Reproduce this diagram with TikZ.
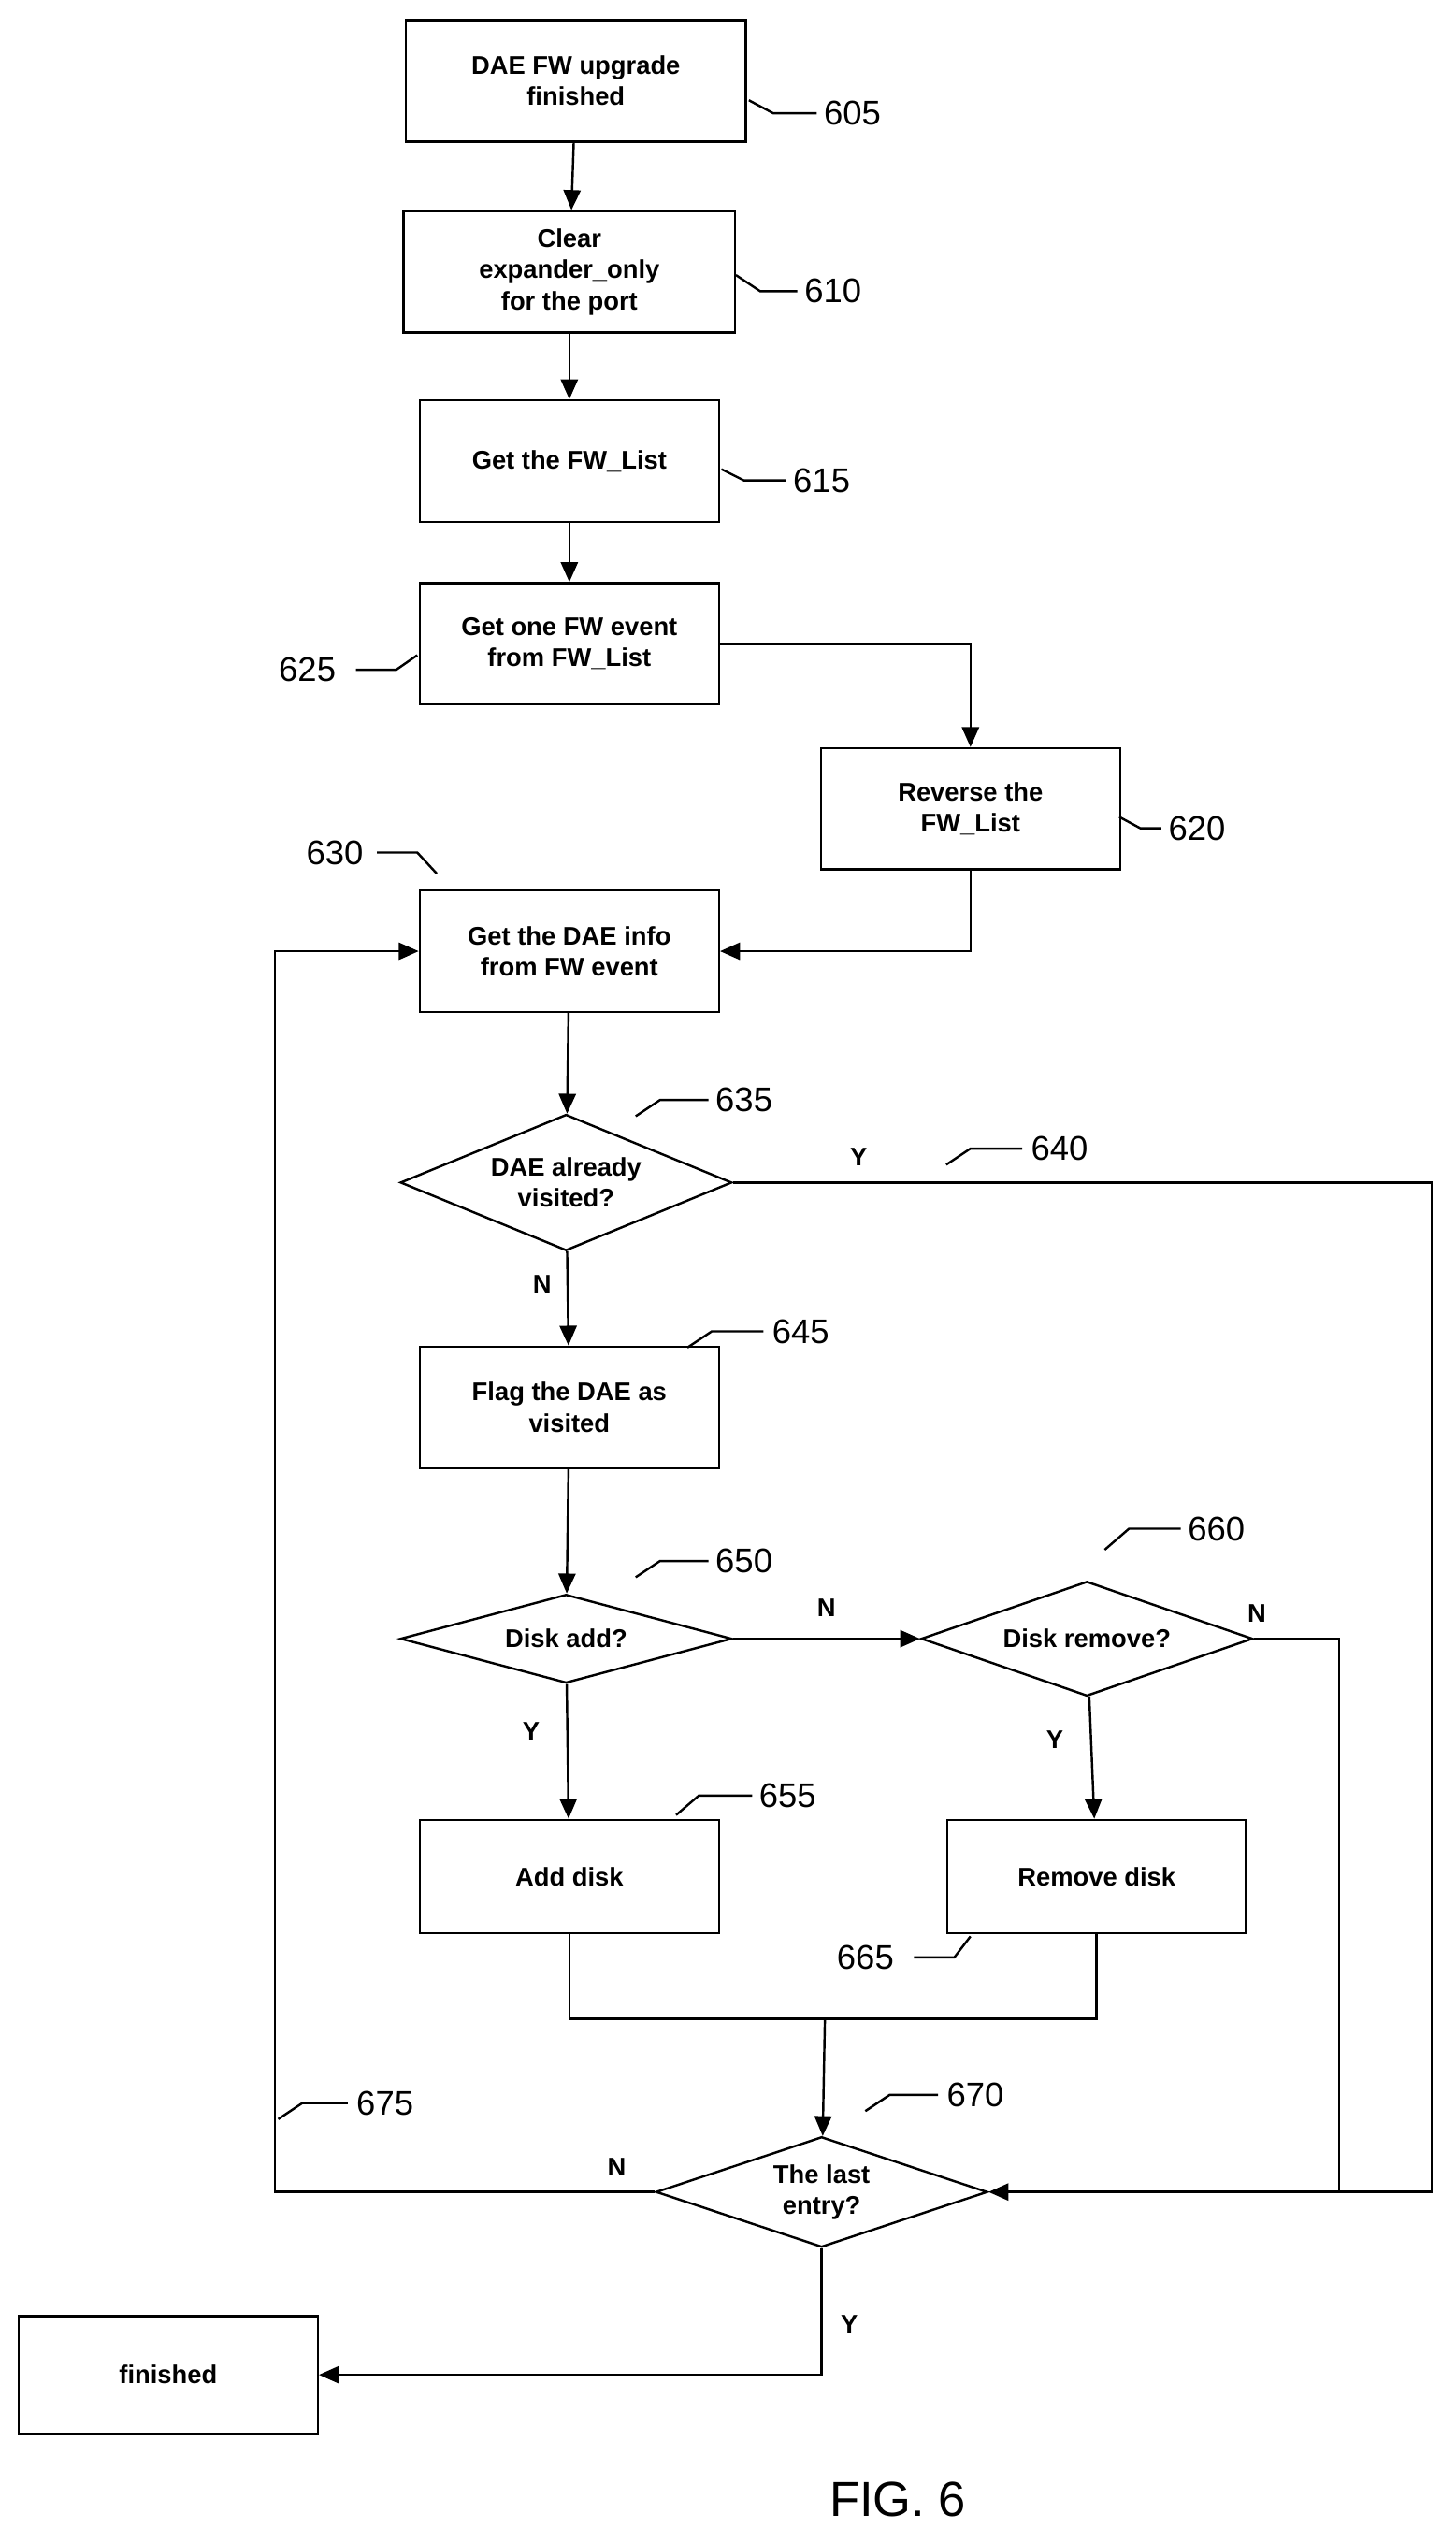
\documentclass[tikz,border=0pt]{standalone}
\usepackage{fontspec}
\setmainfont{Liberation Sans}
\usetikzlibrary{shapes.geometric,arrows.meta,positioning}

\tikzset{
    procbox/.style={draw, line width=0.8pt, align=center, font=\bfseries\small, minimum width=3.7cm, minimum height=1.5cm, inner sep=1pt},
    decide/.style={draw, diamond, line width=0.8pt, align=center, font=\bfseries\small, aspect=1.75, minimum width=4.1cm, inner sep=0pt},
    flow/.style={line width=0.8pt, -{Triangle[length=7pt,width=6pt]}},
    link/.style={line width=0.8pt},
    refnum/.style={font=\large},
    yn/.style={font=\bfseries\small}
}

\begin{document}
\begin{tikzpicture}[x=0.02cm, y=-0.02cm]
    \useasboundingbox (0,0) rectangle (900,1572);

    % process boxes
    \node[procbox, minimum width=4.2cm] (upgrade) at (356,50) {DAE FW upgrade\\finished};
    \node[procbox, minimum width=4.1cm] (clear) at (352,168) {Clear\\expander\_only\\for the port};
    \node[procbox] (getlist) at (352,285) {Get the FW\_List};
    \node[procbox] (getevent) at (352,398) {Get one FW event\\from FW\_List};
    \node[procbox] (reverse) at (600,500) {Reverse the\\FW\_List};
    \node[procbox] (daeinfo) at (352,588) {Get the DAE info\\from FW event};
    \node[decide] (visited) at (350,731) {DAE already\\visited?};
    \node[procbox] (flag) at (352,870) {Flag the DAE as\\visited};
    \node[decide] (diskadd) at (350,1013) {Disk add?};
    \node[decide] (diskrm) at (672,1013) {Disk remove?};
    \node[procbox, minimum height=1.4cm] (add) at (352,1160) {Add disk};
    \node[procbox, minimum height=1.4cm] (remove) at (678,1160) {Remove disk};
    \node[decide] (last) at (508,1355) {The last\\entry?};
    \node[procbox, minimum height=1.45cm] (done) at (104,1468) {finished};
    \node[font=\LARGE] (fig) at (555,1545) {FIG. 6};

    % connectors
    \draw[flow] (upgrade) -- (clear);
    \draw[flow] (clear) -- (getlist);
    \draw[flow] (getlist) -- (getevent);
    \draw[flow] (getevent.east) -| (reverse.north);
    \draw[flow] (reverse.south) |- (daeinfo.east);
    \draw[flow] (daeinfo) -- (visited);
    \draw[flow] (visited) -- node[yn, pos=0.35, left=2pt] {N} (flag);
    \draw[flow] (flag) -- (diskadd);
    \draw[flow] (diskadd) -- node[yn, above=4pt] {N} (diskrm);
    \draw[flow] (diskadd) -- node[yn, pos=0.35, left=6pt] {Y} (add);
    \draw[flow] (diskrm) -- node[yn, pos=0.35, left=6pt] {Y} (remove);
    \coordinate (join) at (510,1248);
    \draw[link] (add.south) |- (join) -| (remove.south);
    \draw[flow] (join) -- (last);
    \draw[flow] (visited.east) -- node[yn, pos=0.18, above=2pt] {Y} (885,731) |- (last.east);
    \draw[link] (diskrm.east) -- (828,1013) node[yn, above right=2pt and -36pt] {N} -- (828,1355);
    \draw[flow] (last.west) -- node[yn, above=2pt, pos=0.1] {N} (170,1355) |- (daeinfo.west);
    \draw[flow] (last.south) |- node[yn, pos=0.3, right=3pt] {Y} (done.east);

    % reference numerals
    \draw[link] (463,62) -- (478,70) -- (505,70);  \node[refnum] (n605) at (527,70) {605};
    \draw[link] (455,170) -- (470,180) -- (493,180); \node[refnum] (n610) at (515,180) {610};
    \draw[link] (446,290) -- (460,297) -- (486,297); \node[refnum] (n615) at (508,297) {615};
    \draw[link] (220,414) -- (245,414) -- (258,405); \node[refnum] (n625) at (190,414) {625};
    \draw[link] (692,505) -- (705,512) -- (718,512); \node[refnum] (n620) at (740,512) {620};
    \draw[link] (233,527) -- (258,527) -- (270,540); \node[refnum] (n630) at (207,527) {630};
    \draw[link] (393,690) -- (408,680) -- (438,680); \node[refnum] (n635) at (460,680) {635};
    \draw[link] (585,720) -- (600,710) -- (632,710); \node[refnum] (n640) at (655,710) {640};
    \draw[link] (425,833) -- (440,823) -- (472,823); \node[refnum] (n645) at (495,823) {645};
    \draw[link] (393,975) -- (408,965) -- (438,965); \node[refnum] (n650) at (460,965) {650};
    \draw[link] (683,958) -- (698,945) -- (730,945); \node[refnum] (n660) at (752,945) {660};
    \draw[link] (418,1122) -- (432,1110) -- (465,1110); \node[refnum] (n655) at (487,1110) {655};
    \draw[link] (565,1210) -- (590,1210) -- (600,1197); \node[refnum] (n665) at (535,1210) {665};
    \draw[link] (535,1305) -- (550,1295) -- (580,1295); \node[refnum] (n670) at (603,1295) {670};
    \draw[link] (172,1310) -- (187,1300) -- (215,1300); \node[refnum] (n675) at (238,1300) {675};
\end{tikzpicture}
\end{document}
